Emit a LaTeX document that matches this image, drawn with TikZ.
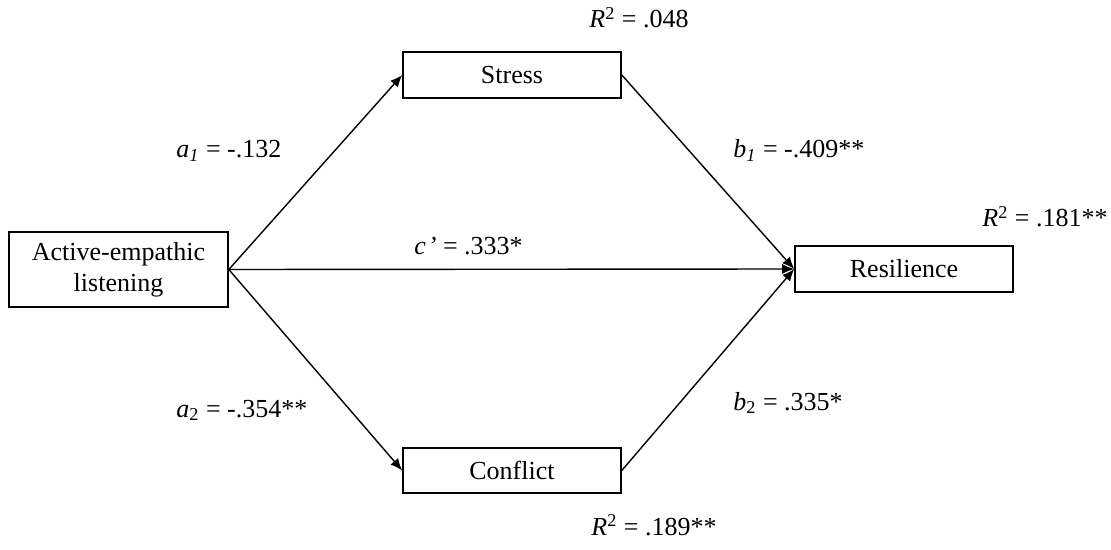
\documentclass[tikz,border=0pt]{standalone}
\usepackage{fontspec}
\setmainfont{Liberation Serif}
\usetikzlibrary{arrows.meta}
\tikzset{
  varbox/.style={draw, line width=0.8pt, inner sep=0pt, align=center,
    font=\fontsize{13}{15.5}\selectfont},
  path/.style={draw, line width=0.7pt, -{Latex[length=6pt,width=5pt]}},
  coef/.style={anchor=base west, inner sep=0pt, font=\fontsize{13}{15.5}\selectfont}
}
\begin{document}
\begin{tikzpicture}[x=0.5pt, y=-0.5pt]
  \useasboundingbox (0,0) rectangle (1111,550);

  % variables
  \node[varbox, minimum width=109.5pt, minimum height=37.5pt] (ael) at (118.5,269.5)
    {Active-empathic\\listening};
  \node[varbox, minimum width=109pt, minimum height=23pt] (stress) at (512,75) {Stress};
  \node[varbox, minimum width=109pt, minimum height=22.5pt] (conflict) at (512,470.5) {Conflict};
  \node[varbox, minimum width=109pt, minimum height=23pt] (res) at (904,269) {Resilience};

  % paths
  \draw[path] (ael.east) -- (stress.west);
  \draw[path] (ael.east) -- (conflict.west);
  \draw[path] (ael.east) -- (res.west);
  \draw[path] (stress.east) -- (res.west);
  \draw[path] (conflict.east) -- (res.west);

  % coefficients
  \node[coef] (la1) at (176,158) {\textit{a}\textsubscript{\textit{1}} = -.132};
  \node[coef] (lb1) at (733,158) {\textit{b}\textsubscript{\textit{1}} = -.409**};
  \node[coef] (lc) at (414,255) {\textit{c\kern1pt’} = .333*};
  \node[coef] (la2) at (176,417) {\textit{a}\textsubscript{2} = -.354**};
  \node[coef] (lb2) at (733,410) {\textit{b}\textsubscript{2} = .335*};

  % explained variance
  \node[coef] (r1) at (589,28) {\textit{R}\textsuperscript{2} = .048};
  \node[coef] (r2) at (982,227) {\textit{R}\textsuperscript{2} = .181**};
  \node[coef] (r3) at (591,535) {\textit{R}\textsuperscript{2} = .189**};
\end{tikzpicture}
\end{document}
